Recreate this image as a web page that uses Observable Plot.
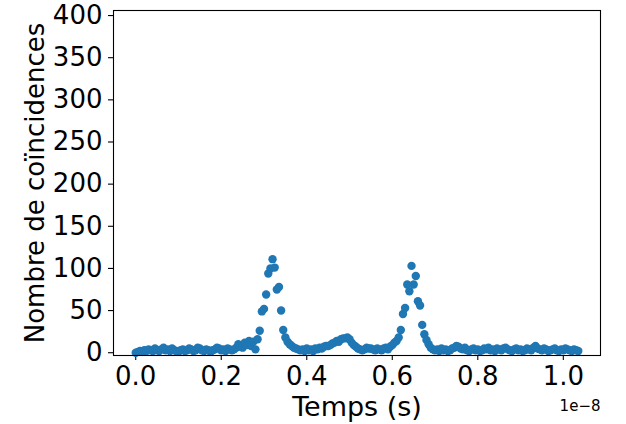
<!DOCTYPE html>
<html>
<head>
<meta charset="utf-8">
<script src="https://cdn.jsdelivr.net/npm/d3@7"></script>
<script src="https://cdn.jsdelivr.net/npm/@observablehq/plot@0.6"></script>
<style>
  html, body { margin: 0; padding: 0; background: white; }
</style>
</head>
<body>
<div id="chart"></div>
<script>
// Time (in units of 1e-8 s)
const times = [
  0.000,0.005,0.010,0.015,0.020,0.025,0.030,0.035,0.040,0.045,
  0.050,0.055,0.060,0.065,0.070,0.075,0.080,0.085,0.090,0.095,
  0.100,0.105,0.110,0.115,0.120,0.125,0.130,0.135,0.140,0.145,
  0.150,0.155,0.160,0.165,0.170,0.175,0.180,0.185,0.190,0.195,
  0.200,0.205,0.210,0.215,0.220,0.225,0.230,0.235,0.240,0.245,
  0.250,0.255,0.260,0.265,0.270,0.275,0.280,0.285,0.290,0.295,
  0.300,0.305,0.310,0.315,0.320,0.325,0.330,0.335,0.340,0.345,
  0.350,0.355,0.360,0.365,0.370,0.375,0.380,0.385,0.390,0.395,
  0.400,0.405,0.410,0.415,0.420,0.425,0.430,0.435,0.440,0.445,
  0.450,0.455,0.460,0.465,0.470,0.475,0.480,0.485,0.490,0.495,
  0.500,0.505,0.510,0.515,0.520,0.525,0.530,0.535,0.540,0.545,
  0.550,0.555,0.560,0.565,0.570,0.575,0.580,0.585,0.590,0.595,
  0.600,0.605,0.610,0.615,0.620,0.625,0.630,0.635,0.640,0.645,
  0.650,0.655,0.660,0.665,0.670,0.675,0.680,0.685,0.690,0.695,
  0.700,0.705,0.710,0.715,0.720,0.725,0.730,0.735,0.740,0.745,
  0.750,0.755,0.760,0.765,0.770,0.775,0.780,0.785,0.790,0.795,
  0.800,0.805,0.810,0.815,0.820,0.825,0.830,0.835,0.840,0.845,
  0.850,0.855,0.860,0.865,0.870,0.875,0.880,0.885,0.890,0.895,
  0.900,0.905,0.910,0.915,0.920,0.925,0.930,0.935,0.940,0.945,
  0.950,0.955,0.960,0.965,0.970,0.975,0.980,0.985,0.990,0.995,
  1.000,1.005,1.010,1.015,1.020,1.025,1.030,1.035
];

// Coincidence counts
const counts = [
  0,1,2,1,3,2,4,3,2,5,
  3,2,4,6,3,4,2,5,3,2,
  1,3,4,2,3,5,4,2,3,6,
  5,3,2,4,3,1,3,4,6,5,
  3,4,2,5,4,3,4,6,10,7,
  6,12,9,14,8,13,4,16,26,49,
  52,69,94,100,111,101,75,78,50,27,
  18,13,10,8,6,5,4,3,4,2,
  5,3,4,2,5,4,6,5,7,8,
  8,9,11,12,14,13,16,17,17,18,
  16,12,9,7,5,4,3,4,6,5,
  5,4,3,5,4,3,5,6,4,7,
  9,12,14,18,27,46,53,81,73,103,
  81,91,61,56,33,22,15,10,6,4,
  3,4,2,5,3,4,2,3,5,6,
  8,7,5,4,6,3,2,4,5,3,
  4,2,3,5,4,6,3,4,2,5,
  4,3,5,6,4,3,2,4,5,3,
  4,2,3,5,4,3,6,8,5,4,
  3,5,4,2,3,4,5,3,2,4,
  3,5,4,3,2,4,3,2
];

const xTicks = [0.0, 0.2, 0.4, 0.6, 0.8, 1.0];
const yTicks = [0, 50, 100, 150, 200, 250, 300, 350, 400];
const xLabel = "Temps (s)";
const yLabel = "Nombre de coïncidences";
const offsetLabel = "1e\u22128";

const data = times.map((t, i) => ({t, c: counts[i]}));

const chart = Plot.plot({
  width: 626,
  height: 424,
  marginLeft: 113,
  marginRight: 26,
  marginTop: 10,
  marginBottom: 69,
  style: {fontFamily: "DejaVu Sans", fontSize: "26px", color: "black", background: "white"},
  x: {domain: [-0.052, 1.087]},
  y: {domain: [-3.3, 406]},
  marks: [
    Plot.axisX({ticks: xTicks, tickFormat: d3.format(".1f"), tickSize: 5, tickPadding: 6, label: null, strokeWidth: 1.1}),
    Plot.axisY({ticks: yTicks, tickFormat: d3.format("d"), tickSize: 5, tickPadding: 6, label: null, strokeWidth: 1.1}),
    Plot.dot(data, {x: "t", y: "c", r: 4.2, fill: "#1f77b4", stroke: "none", fillOpacity: 1}),
    Plot.frame({stroke: "black", strokeWidth: 1.1}),
    Plot.text([xLabel], {frameAnchor: "bottom", textAnchor: "middle", lineAnchor: "bottom", dy: 60, fontSize: 27, fill: "black"}),
    Plot.text([yLabel], {frameAnchor: "left", textAnchor: "middle", lineAnchor: "bottom", rotate: -90, dx: -70, fontSize: 26, fill: "black"}),
    Plot.text([offsetLabel], {frameAnchor: "bottom-right", textAnchor: "end", lineAnchor: "bottom", dy: 55, fontSize: 15, fill: "black"})
  ]
});

document.getElementById("chart").appendChild(chart);
</script>
</body>
</html>
